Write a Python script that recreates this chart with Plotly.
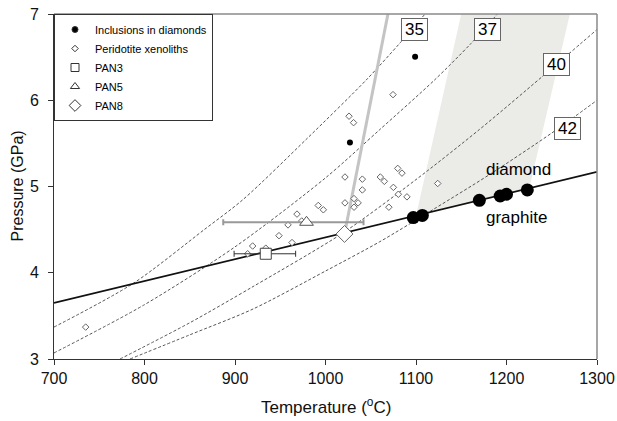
import plotly.graph_objects as go

# ---------------- data ----------------
# graphite-diamond boundary
gd_T = [700, 1300]
gd_P = [3.65, 5.17]

# geotherms (mW/m2)
g35_T = [700, 788, 866, 909, 980, 1045, 1082, 1110]
g35_P = [3.37, 3.88, 4.50, 4.85, 5.56, 6.235, 6.66, 7.0]
g37_T = [700, 800, 900, 1000, 1060, 1120, 1160, 1190]
g37_P = [3.07, 3.63, 4.30, 5.10, 5.66, 6.23, 6.65, 7.0]
g40_T = [773, 850, 920, 1019, 1100, 1170, 1239, 1300]
g40_P = [3.0, 3.42, 3.84, 4.46, 5.08, 5.66, 6.27, 6.82]
g42_T = [784, 850, 920, 1000, 1060, 1120, 1180, 1250, 1300]
g42_P = [3.0, 3.28, 3.58, 4.02, 4.36, 4.74, 5.13, 5.62, 6.0]
geo_labels = ["35", "37", "40", "42"]
geo_label_T = [1098, 1179, 1255, 1267]
geo_label_P = [6.815, 6.815, 6.41, 5.67]

# shaded field
shade_T = [1100, 1150, 1270, 1225]
shade_P = [4.66, 7.0, 7.0, 4.97]

# grey line from PAN8
grey_T = [1021, 1069]
grey_P = [4.45, 7.0]

# inclusions in diamonds
inc_T = [1027, 1099]
inc_P = [5.51, 6.505]

# large black dots on the boundary
big_T = [1097, 1107, 1170, 1193, 1200, 1223]
big_P = [4.64, 4.665, 4.84, 4.89, 4.91, 4.96]

# peridotite xenoliths
per_T = [735, 914, 919.5, 934, 948.6, 958.6, 963, 968.5, 973.7, 992, 997.6,
         1021.5, 1021.5, 1026, 1031, 1031.5, 1031.5, 1036, 1040.7, 1040.7,
         1060.6, 1065, 1070, 1074.6, 1075, 1079.8, 1080.5, 1084.5, 1090, 1124]
per_P = [3.37, 4.22, 4.31, 4.285, 4.43, 4.555, 4.35, 4.68, 4.60, 4.78, 4.73,
         5.11, 4.81, 5.815, 5.74, 4.86, 4.76, 4.81, 5.085, 4.96,
         5.11, 5.06, 4.76, 6.065, 4.99, 5.21, 4.91, 5.155, 4.88, 5.035]

# samples
pan3_T, pan3_P, pan3_em, pan3_ep = [934], [4.22], [35], [33]
pan5_T, pan5_P, pan5_em, pan5_ep = [979], [4.585], [92], [63]
pan8_T, pan8_P = [1021], [4.45]

x_ticks = [700, 800, 900, 1000, 1100, 1200, 1300]
y_ticks = [3, 4, 5, 6, 7]

legend_names = ["Inclusions in diamonds", "Peridotite xenoliths", "PAN3", "PAN5", "PAN8"]
legend_symbols = ["circle", "diamond", "square", "triangle-up", "diamond"]
legend_sizes = [6, 5, 8, 8, 9]
legend_fill = ["black", "white", "white", "white", "white"]

FONT = "Liberation Sans, Arial, sans-serif"

fig = go.Figure()

fig.add_trace(go.Scatter(x=shade_T, y=shade_P, fill="toself", mode="lines",
                         line=dict(width=0), fillcolor="#ebebe8",
                         showlegend=False, hoverinfo="skip"))

for gt, gp in [(g35_T, g35_P), (g37_T, g37_P), (g40_T, g40_P), (g42_T, g42_P)]:
    fig.add_trace(go.Scatter(x=gt, y=gp, mode="lines",
                             line=dict(color="#555555", width=1, dash="3px,2px",
                                       shape="spline", smoothing=0.8),
                             showlegend=False, hoverinfo="skip"))

fig.add_trace(go.Scatter(x=gd_T, y=gd_P, mode="lines",
                         line=dict(color="#111111", width=1.8),
                         showlegend=False))

fig.add_trace(go.Scatter(x=grey_T, y=grey_P, mode="lines",
                         line=dict(color="#c4c4c4", width=3),
                         showlegend=False))

fig.add_trace(go.Scatter(x=big_T, y=big_P, mode="markers",
                         marker=dict(symbol="circle", size=13, color="black"),
                         showlegend=False))

fig.add_trace(go.Scatter(x=inc_T, y=inc_P, mode="markers", showlegend=False,
                         marker=dict(symbol="circle", size=6, color="black")))

fig.add_trace(go.Scatter(x=per_T, y=per_P, mode="markers", showlegend=False,
                         marker=dict(symbol="diamond", size=5, color="white",
                                     line=dict(color="#666666", width=1))))

fig.add_trace(go.Scatter(x=pan3_T, y=pan3_P, mode="markers", showlegend=False,
                         marker=dict(symbol="square", size=11, color="white",
                                     line=dict(color="#444444", width=1)),
                         error_x=dict(type="data", symmetric=False, array=pan3_ep,
                                      arrayminus=pan3_em, color="#333333",
                                      thickness=1, width=3)))

fig.add_trace(go.Scatter(x=pan5_T, y=pan5_P, mode="markers", showlegend=False,
                         marker=dict(symbol="triangle-up", size=12, color="white",
                                     line=dict(color="#555555", width=1)),
                         error_x=dict(type="data", symmetric=False, array=pan5_ep,
                                      arrayminus=pan5_em, color="#999999",
                                      thickness=2, width=3)))

fig.add_trace(go.Scatter(x=pan8_T, y=pan8_P, mode="markers", showlegend=False,
                         marker=dict(symbol="diamond", size=13, color="white",
                                     line=dict(color="#666666", width=1))))

# legend entries with small symbols
for nm, sym, sz, fc in zip(legend_names, legend_symbols, legend_sizes, legend_fill):
    fig.add_trace(go.Scatter(x=[None], y=[None], mode="markers", name=nm,
                             marker=dict(symbol=sym, size=sz, color=fc,
                                         line=dict(color="#333333", width=1))))

for lab, lt, lp in zip(geo_labels, geo_label_T, geo_label_P):
    fig.add_annotation(x=lt, y=lp, text=lab, showarrow=False,
                       font=dict(family=FONT, size=17, color="black"),
                       bgcolor="white", bordercolor="#666666", borderwidth=1,
                       width=25, height=21, borderpad=0)

fig.add_annotation(x=1213.6, y=5.20, text="diamond", showarrow=False,
                   font=dict(family=FONT, size=17, color="black"))
fig.add_annotation(x=1210.5, y=4.635, text="graphite", showarrow=False,
                   font=dict(family=FONT, size=17, color="black"))

# axis titles
fig.add_annotation(xref="paper", yref="paper", x=0.5, y=0, yshift=-47,
                   yanchor="middle", text="Temperature (<sup>o</sup>C)", showarrow=False,
                   font=dict(family=FONT, size=17, color="#111111"))
fig.add_annotation(xref="paper", yref="paper", x=0, y=0.5, xshift=-37,
                   xanchor="center", textangle=-90, text="Pressure (GPa)", showarrow=False,
                   font=dict(family=FONT, size=16, color="#111111"))

# top & right frame in grey
fig.add_shape(type="line", xref="paper", yref="paper", x0=0, x1=1, y0=1, y1=1,
              line=dict(color="#8a8a8a", width=1.5))
fig.add_shape(type="line", xref="paper", yref="paper", x0=1, x1=1, y0=0, y1=1,
              line=dict(color="#8a8a8a", width=1.5))

fig.update_layout(
    width=617, height=421,
    margin=dict(l=54, r=20, t=14, b=62, autoexpand=False),
    paper_bgcolor="white", plot_bgcolor="white",
    font=dict(family=FONT, color="#111111"),
    showlegend=True,
    legend=dict(x=0, y=1, xanchor="left", yanchor="top",
                bgcolor="white", bordercolor="#333333", borderwidth=1,
                font=dict(family=FONT, size=11, color="black"),
                itemwidth=30, tracegroupgap=0),
)

fig.update_xaxes(range=[700, 1300], tickvals=x_ticks, ticks="outside", ticklen=5,
                 tickcolor="#333333", showline=True, linecolor="#333333", linewidth=1,
                 showgrid=False, zeroline=False, automargin=False,
                 tickfont=dict(family=FONT, size=16, color="#111111"))
fig.update_yaxes(range=[3, 7], tickvals=y_ticks, ticks="outside", ticklen=5,
                 tickcolor="#333333", showline=True, linecolor="#333333", linewidth=1,
                 showgrid=False, zeroline=False, ticklabelstandoff=6, automargin=False,
                 tickfont=dict(family=FONT, size=16, color="#111111"))

fig.write_html("out.html", config={"displayModeBar": False},
               post_script="document.body.style.margin='0';document.body.style.padding='0';"
                           "document.body.style.overflow='hidden';")
